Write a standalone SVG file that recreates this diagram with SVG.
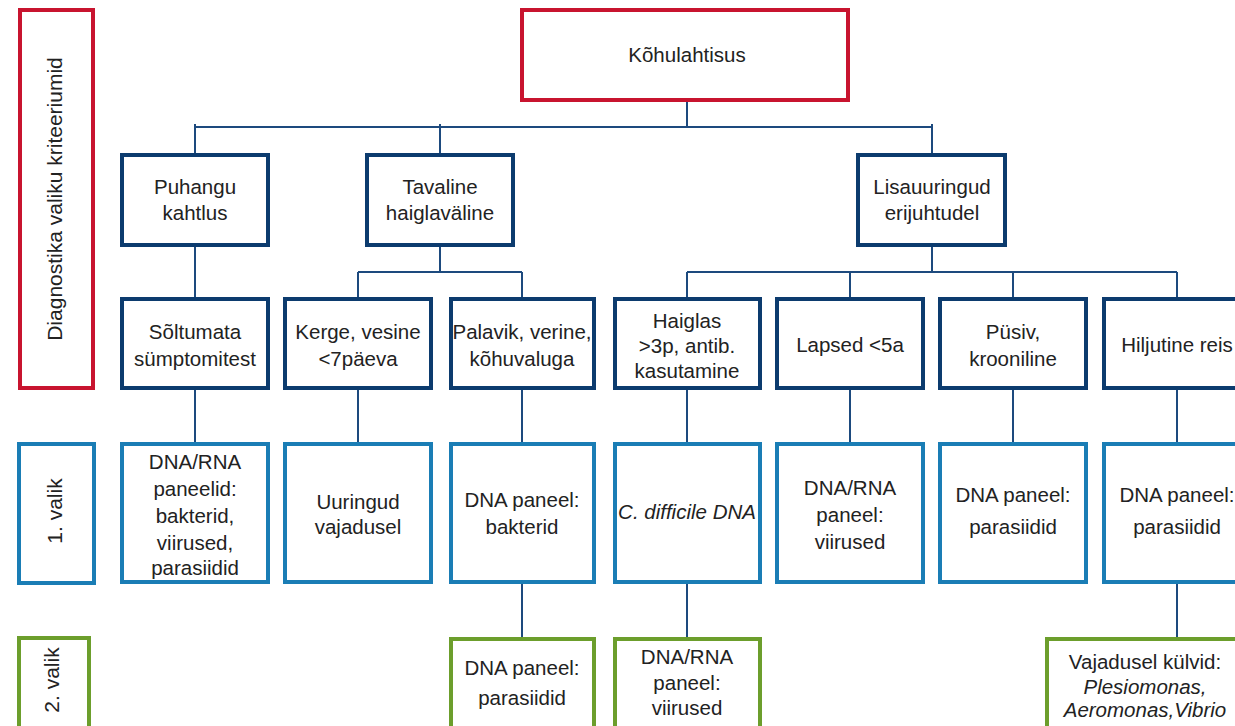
<svg xmlns="http://www.w3.org/2000/svg" width="1235" height="726" viewBox="0 0 1235 726">
<style>
rect{fill:#fff;stroke-width:4}
.red{stroke:#c8142f}
.navy{stroke:#0c3b6e}
.blue{stroke:#1a7db5}
.green{stroke:#6c9e2c}
text{font-family:"Liberation Sans",Arial,sans-serif;font-size:20.5px;fill:#222;text-anchor:middle}
.i{font-style:italic}
.rot{font-size:21px}
#connectors path{fill:none;stroke:#1d4a7e;stroke-width:2}
</style>
<rect width="1235" height="726" style="fill:#fff;stroke:none"/>
<g id="connectors">
<path d="M687 102V127M195 127H932M195 124V155M440 124V155M932 124V155"/>
<path d="M195 247V299"/>
<path d="M440 247V272M358 272H522M358 272V299M522 272V299"/>
<path d="M932 247V272M687 272H1177M687 272V299M850 272V299M1013 272V299M1177 272V299"/>
<path d="M195 390V444M358 390V444M522 390V444M687 390V444M850 390V444M1013 390V444M1177 390V444"/>
<path d="M522 584V639M687 584V639M1177 584V639"/>
</g>
<g id="lbl-criteria"><rect class="red" x="20" y="10" width="73" height="378"/><text class="rot" transform="translate(62 199) rotate(-90)">Diagnostika valiku kriteeriumid</text></g>
<g id="lbl-1"><rect class="blue" x="19" y="444" width="75" height="139"/><text class="rot" transform="translate(62 511) rotate(-90)">1. valik</text></g>
<g id="lbl-2"><rect class="green" x="19" y="638" width="70" height="100"/><text class="rot" transform="translate(59 680) rotate(-90)">2. valik</text></g>
<g id="root"><rect class="red" x="522" y="10" width="326" height="90"/><text x="687" y="62">Kõhulahtisus</text></g>
<g id="puhangu"><rect class="navy" x="122" y="155" width="146" height="90"/><text x="195" y="194">Puhangu</text><text x="195" y="220">kahtlus</text></g>
<g id="tavaline"><rect class="navy" x="367" y="155" width="146" height="90"/><text x="440" y="194">Tavaline</text><text x="440" y="220">haiglaväline</text></g>
<g id="lisa"><rect class="navy" x="858" y="155" width="147" height="90"/><text x="932" y="194">Lisauuringud</text><text x="932" y="220">erijuhtudel</text></g>
<g id="soltumata"><rect class="navy" x="122" y="299" width="146" height="89"/><text x="195" y="339">Sõltumata</text><text x="195" y="366">sümptomitest</text></g>
<g id="kerge"><rect class="navy" x="285" y="299" width="146" height="89"/><text x="358" y="339">Kerge, vesine</text><text x="358" y="366">&lt;7päeva</text></g>
<g id="palavik"><rect class="navy" x="451" y="299" width="143" height="89"/><text x="522" y="339">Palavik, verine,</text><text x="522" y="366">kõhuvaluga</text></g>
<g id="haiglas"><rect class="navy" x="615" y="299" width="145" height="89"/><text x="687" y="328">Haiglas</text><text x="687" y="353">&gt;3p, antib.</text><text x="687" y="378">kasutamine</text></g>
<g id="lapsed"><rect class="navy" x="777" y="299" width="146" height="89"/><text x="850" y="352">Lapsed &lt;5a</text></g>
<g id="pusiv"><rect class="navy" x="940" y="299" width="146" height="89"/><text x="1013" y="339">Püsiv,</text><text x="1013" y="366">krooniline</text></g>
<g id="hiljutine"><rect class="navy" x="1104" y="299" width="146" height="89"/><text x="1177" y="352">Hiljutine reis</text></g>
<g id="v1-soltumata"><rect class="blue" x="122" y="444" width="146" height="138"/><text x="195" y="469">DNA/RNA</text><text x="195" y="496">paneelid:</text><text x="195" y="523">bakterid,</text><text x="195" y="550">viirused,</text><text x="195" y="575">parasiidid</text></g>
<g id="v1-kerge"><rect class="blue" x="285" y="444" width="146" height="138"/><text x="358" y="509">Uuringud</text><text x="358" y="534">vajadusel</text></g>
<g id="v1-palavik"><rect class="blue" x="451" y="444" width="143" height="138"/><text x="522" y="507">DNA paneel:</text><text x="522" y="534">bakterid</text></g>
<g id="v1-haiglas"><rect class="blue" x="615" y="444" width="145" height="138"/><text class="i" x="687" y="519">C. difficile DNA</text></g>
<g id="v1-lapsed"><rect class="blue" x="777" y="444" width="146" height="138"/><text x="850" y="495">DNA/RNA</text><text x="850" y="522">paneel:</text><text x="850" y="549">viirused</text></g>
<g id="v1-pusiv"><rect class="blue" x="940" y="444" width="146" height="138"/><text x="1013" y="502">DNA paneel:</text><text x="1013" y="534">parasiidid</text></g>
<g id="v1-hiljutine"><rect class="blue" x="1104" y="444" width="146" height="138"/><text x="1177" y="502">DNA paneel:</text><text x="1177" y="534">parasiidid</text></g>
<g id="v2-palavik"><rect class="green" x="451" y="639" width="143" height="100"/><text x="522" y="675">DNA paneel:</text><text x="522" y="705">parasiidid</text></g>
<g id="v2-haiglas"><rect class="green" x="615" y="639" width="145" height="100"/><text x="687" y="664">DNA/RNA</text><text x="687" y="690">paneel:</text><text x="687" y="715">viirused</text></g>
<g id="v2-hiljutine"><rect class="green" x="1047" y="639" width="196" height="100"/><text x="1145" y="669">Vajadusel külvid:</text><text class="i" x="1145" y="694">Plesiomonas,</text><text class="i" x="1145" y="717">Aeromonas,Vibrio</text></g>
</svg>
